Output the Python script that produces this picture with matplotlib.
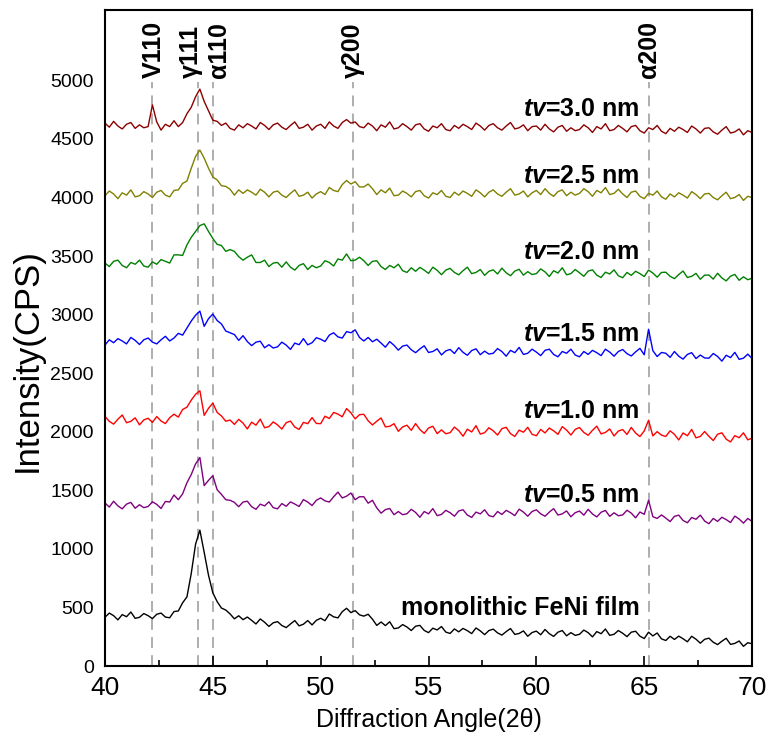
import numpy as np
import matplotlib
matplotlib.use("Agg")
import matplotlib.pyplot as plt

plt.rcParams['font.family'] = ['Liberation Sans', 'DejaVu Sans']
plt.rcParams['mathtext.fontset'] = 'custom'
plt.rcParams['mathtext.it'] = 'Liberation Sans:italic:bold'
plt.rcParams['mathtext.rm'] = 'Liberation Sans:bold'

# 2theta sampling, 40..70 step 0.2 (151 points)
two_theta = np.linspace(40.0, 70.0, 151)

tv_30 = [4635, 4600, 4650, 4610, 4585, 4625, 4640, 4590, 4620, 4595,
         4605, 4790, 4645, 4575, 4625, 4605, 4655, 4605, 4640, 4715,
         4770, 4860, 4925, 4820, 4740, 4660, 4650, 4615, 4635, 4590,
         4575, 4620, 4595, 4630, 4610, 4585, 4640, 4615, 4580, 4620,
         4635, 4600, 4580, 4615, 4645, 4590, 4600, 4625, 4575, 4610,
         4625, 4590, 4645, 4610, 4590, 4640, 4665, 4635, 4645, 4605,
         4595, 4635, 4610, 4570, 4620, 4600, 4645, 4585, 4595, 4630,
         4605, 4575, 4620, 4630, 4585, 4565, 4610, 4595, 4630, 4580,
         4570, 4615, 4590, 4625, 4605, 4580, 4635, 4610, 4575, 4615,
         4630, 4595, 4575, 4610, 4640, 4585, 4595, 4620, 4570, 4605,
         4610, 4575, 4625, 4585, 4560, 4600, 4615, 4565, 4595, 4570,
         4580, 4620, 4595, 4555, 4605, 4585, 4630, 4570, 4580, 4615,
         4590, 4560, 4605, 4615, 4570, 4550, 4595, 4580, 4615, 4565,
         4545, 4590, 4565, 4600, 4580, 4555, 4610, 4585, 4550, 4590,
         4595, 4560, 4540, 4575, 4605, 4550, 4560, 4585, 4535, 4570,
         4555]

tv_25 = [4015, 4055, 4030, 3990, 4040, 4020, 4065, 4005, 4015, 4050,
         4030, 4000, 4045, 4060, 4020, 4005, 4060, 4065, 4120, 4140,
         4250, 4350, 4405, 4335, 4250, 4175, 4150, 4100, 4095, 4070,
         4020, 4065, 4035, 4065, 4045, 4020, 4070, 4045, 4005, 4045,
         4055, 4020, 4000, 4035, 4065, 4010, 4020, 4045, 3995, 4030,
         4050, 4025, 4085, 4060, 4050, 4110, 4145, 4115, 4135, 4090,
         4090, 4115, 4075, 4025, 4065, 4040, 4080, 4015, 4020, 4055,
         4035, 4005, 4050, 4060, 4015, 3995, 4040, 4025, 4060, 4010,
         4000, 4045, 4020, 4055, 4035, 4010, 4065, 4040, 4005, 4045,
         4065, 4030, 4010, 4045, 4075, 4020, 4030, 4055, 4005, 4040,
         4060, 4025, 4075, 4035, 4010, 4050, 4065, 4015, 4045, 4020,
         4035, 4075, 4050, 4010, 4060, 4040, 4085, 4025, 4035, 4070,
         4030, 4000, 4045, 4055, 4010, 3990, 4035, 4020, 4055, 4005,
         3985, 4030, 4005, 4040, 4020, 3995, 4050, 4025, 3990, 4030,
         4035, 4000, 3980, 4015, 4045, 3990, 4000, 4025, 3975, 4010,
         4000]

tv_20 = [3440, 3410, 3455, 3465, 3420, 3400, 3445, 3430, 3465, 3415,
         3405, 3450, 3430, 3470, 3455, 3440, 3510, 3510, 3505, 3595,
         3660, 3710, 3760, 3775, 3710, 3650, 3600, 3590, 3540, 3555,
         3540, 3495, 3465, 3490, 3510, 3445, 3445, 3465, 3410, 3440,
         3445, 3405, 3450, 3405, 3380, 3420, 3435, 3385, 3420, 3400,
         3415, 3460, 3445, 3415, 3475, 3465, 3518, 3460, 3465, 3490,
         3460, 3420, 3455, 3460, 3410, 3385, 3420, 3400, 3430, 3375,
         3360, 3400, 3370, 3403, 3380, 3352, 3405, 3378, 3341, 3380,
         3395, 3360, 3340, 3375, 3405, 3350, 3360, 3385, 3335, 3370,
         3382, 3347, 3397, 3357, 3332, 3372, 3387, 3337, 3367, 3342,
         3350, 3390, 3365, 3325, 3375, 3355, 3400, 3340, 3350, 3385,
         3357, 3327, 3372, 3382, 3337, 3317, 3362, 3347, 3382, 3332,
         3315, 3360, 3335, 3370, 3350, 3325, 3380, 3355, 3320, 3360,
         3362, 3327, 3307, 3342, 3372, 3317, 3327, 3352, 3302, 3337,
         3338, 3303, 3353, 3313, 3288, 3328, 3343, 3293, 3323, 3298,
         3310]

tv_15 = [2740, 2785, 2760, 2795, 2775, 2750, 2805, 2780, 2745, 2785,
         2800, 2765, 2750, 2785, 2815, 2775, 2800, 2840, 2825, 2885,
         2945, 2995, 3030, 2900, 2965, 3005, 2950, 2920, 2860, 2845,
         2830, 2780, 2820, 2770, 2735, 2765, 2773, 2717, 2743, 2715,
         2725, 2765, 2740, 2703, 2757, 2743, 2795, 2742, 2760, 2803,
         2790, 2770, 2825, 2845, 2810, 2800, 2855, 2845, 2870, 2805,
         2775, 2805, 2768, 2790, 2757, 2722, 2770, 2738, 2697, 2731,
         2740, 2700, 2675, 2707, 2734, 2677, 2685, 2708, 2656, 2690,
         2703, 2668, 2718, 2678, 2653, 2693, 2708, 2658, 2688, 2663,
         2670, 2710, 2685, 2645, 2695, 2675, 2720, 2660, 2670, 2705,
         2680, 2650, 2695, 2705, 2660, 2640, 2685, 2670, 2705, 2655,
         2640, 2685, 2660, 2695, 2675, 2650, 2705, 2680, 2645, 2685,
         2702, 2667, 2647, 2682, 2712, 2657, 2875, 2692, 2642, 2677,
         2670, 2635, 2685, 2645, 2620, 2660, 2675, 2625, 2655, 2630,
         2628, 2668, 2643, 2603, 2653, 2633, 2678, 2618, 2628, 2663,
         2625]

tv_10 = [2131, 2089, 2065, 2107, 2143, 2077, 2089, 2119, 2059, 2101,
         2115, 2080, 2130, 2092, 2070, 2120, 2150, 2125, 2190, 2210,
         2270, 2320, 2350, 2140, 2200, 2245, 2165, 2135, 2090, 2100,
         2063, 2106, 2074, 2024, 2082, 2056, 2108, 2034, 2044, 2084,
         2059, 2023, 2077, 2091, 2040, 2020, 2080, 2069, 2121, 2071,
         2069, 2133, 2113, 2165, 2151, 2128, 2198, 2162, 2110, 2146,
         2149, 2094, 2058, 2090, 2118, 2042, 2046, 2069, 2004, 2041,
         2056, 2012, 2070, 2019, 1986, 2032, 2047, 1984, 2016, 1983,
         1992, 2040, 2010, 1962, 2022, 1998, 2052, 1980, 1992, 2034,
         2008, 1972, 2026, 2038, 1984, 1960, 2014, 1996, 2038, 1978,
         1966, 2020, 1990, 2032, 2008, 1978, 2044, 2014, 1972, 2020,
         2036, 1994, 1970, 2012, 2048, 1982, 1994, 2024, 1964, 2006,
         2019, 1977, 2037, 1989, 1959, 2007, 2098, 1965, 2001, 1971,
         1960, 2008, 1978, 1930, 1990, 1966, 2020, 1948, 1960, 2002,
         1961, 1925, 1979, 1991, 1937, 1913, 1967, 1949, 1991, 1931,
         1945]

tv_05 = [1392, 1357, 1407, 1367, 1342, 1382, 1397, 1347, 1377, 1352,
         1362, 1402, 1380, 1345, 1405, 1400, 1460, 1420, 1470, 1565,
         1635, 1725, 1780, 1540, 1585, 1625, 1505, 1465, 1420, 1415,
         1397, 1360, 1400, 1407, 1360, 1338, 1382, 1367, 1402, 1352,
         1342, 1387, 1364, 1401, 1383, 1362, 1421, 1400, 1370, 1415,
         1435, 1410, 1400, 1445, 1485, 1435, 1450, 1477, 1420, 1445,
         1445, 1390, 1415, 1350, 1305, 1335, 1345, 1292, 1319, 1292,
         1300, 1338, 1311, 1270, 1319, 1299, 1344, 1284, 1294, 1329,
         1309, 1279, 1324, 1334, 1289, 1269, 1314, 1299, 1334, 1284,
         1274, 1319, 1294, 1329, 1309, 1284, 1339, 1314, 1279, 1319,
         1334, 1299, 1279, 1314, 1344, 1289, 1299, 1324, 1274, 1309,
         1323, 1288, 1338, 1298, 1273, 1313, 1328, 1278, 1308, 1283,
         1290, 1330, 1305, 1265, 1315, 1295, 1415, 1275, 1260, 1290,
         1263, 1233, 1278, 1288, 1243, 1223, 1268, 1253, 1288, 1238,
         1215, 1260, 1235, 1270, 1250, 1225, 1280, 1255, 1220, 1260,
         1235]

feni_film = [416, 452, 430, 394, 439, 421, 461, 407, 416, 448,
             430, 405, 442, 452, 418, 412, 465, 470, 540, 590,
             790, 1040, 1160, 970, 775, 625, 550, 495, 478, 445,
             403, 429, 396, 418, 390, 359, 402, 374, 338, 369,
             379, 346, 328, 359, 388, 343, 357, 388, 351, 390,
             408, 387, 444, 420, 411, 464, 493, 456, 473, 437,
             426, 442, 400, 347, 376, 345, 378, 319, 325, 354,
             333, 303, 340, 347, 304, 285, 323, 308, 337, 290,
             278, 317, 292, 321, 302, 277, 325, 300, 268, 303,
             315, 283, 264, 294, 320, 270, 278, 300, 254, 286,
             298, 267, 312, 276, 253, 289, 303, 258, 285, 262,
             271, 307, 285, 249, 294, 276, 316, 262, 271, 303,
             280, 251, 289, 297, 255, 235, 289, 257, 282, 232,
             218, 254, 227, 255, 233, 207, 254, 229, 195, 228,
             238, 203, 183, 212, 237, 185, 193, 214, 168, 199,
             190]

series = [feni_film, tv_05, tv_10, tv_15, tv_20, tv_25, tv_30]
colors = ['black', '#800080', '#ff0000', '#0000ff', '#008000', '#808000', '#8b0000']
labels = ['monolithic FeNi film', r'$tv$=0.5 nm', r'$tv$=1.0 nm', r'$tv$=1.5 nm',
          r'$tv$=2.0 nm', r'$tv$=2.5 nm', r'$tv$=3.0 nm']
label_y = [494, 1457, 2173, 2837, 3536, 4183, 4754]

peak_names = ['V110', 'γ111', 'α110', 'γ200', 'α200']
peak_pos = [42.2, 44.3, 45.0, 51.5, 65.2]
peak_text_x = [42.27, 43.99, 45.29, 51.5, 65.2]

fig = plt.figure(figsize=(7.69, 7.45), dpi=100)
ax = fig.add_axes([0.1365, 0.106, 0.8415, 0.8805])

ax.vlines(peak_pos, 0, 4985, colors='#a8a8a8', linestyles=(0, (6, 4)), lw=1.3, zorder=1)
for name, xt in zip(peak_names, peak_text_x):
    ax.text(xt, 5020, name, rotation=90, ha='center', va='bottom',
            fontsize=18, fontweight='bold')

for ys, c in zip(series, colors):
    ax.plot(two_theta, ys, color=c, lw=1.0, zorder=2)

for lab, y in zip(labels, label_y):
    ax.text(64.8, y, lab, ha='right', va='center', fontsize=18, fontweight='bold')

ax.set_xlim(40, 70)
ax.set_ylim(0, 5600)
ax.set_xticks(np.arange(40, 71, 5))
ax.set_xticks(np.arange(42.5, 70, 5), minor=True)
ax.set_yticks(np.arange(0, 5001, 500))
ax.tick_params(axis='x', which='major', direction='in', length=7, width=1.2,
               pad=7, labelsize=19)
ax.tick_params(axis='x', which='minor', direction='in', length=4, width=1.2)
ax.tick_params(axis='y', length=0, pad=8, labelsize=14)
for sp in ax.spines.values():
    sp.set_linewidth(1.5)

ax.set_xlabel('Diffraction Angle(2θ)', fontsize=18, labelpad=6)
ax.set_ylabel('Intensity(CPS)', fontsize=25)
ax.yaxis.set_label_coords(-0.095, 0.466)

fig.savefig('out.png', dpi=100)
